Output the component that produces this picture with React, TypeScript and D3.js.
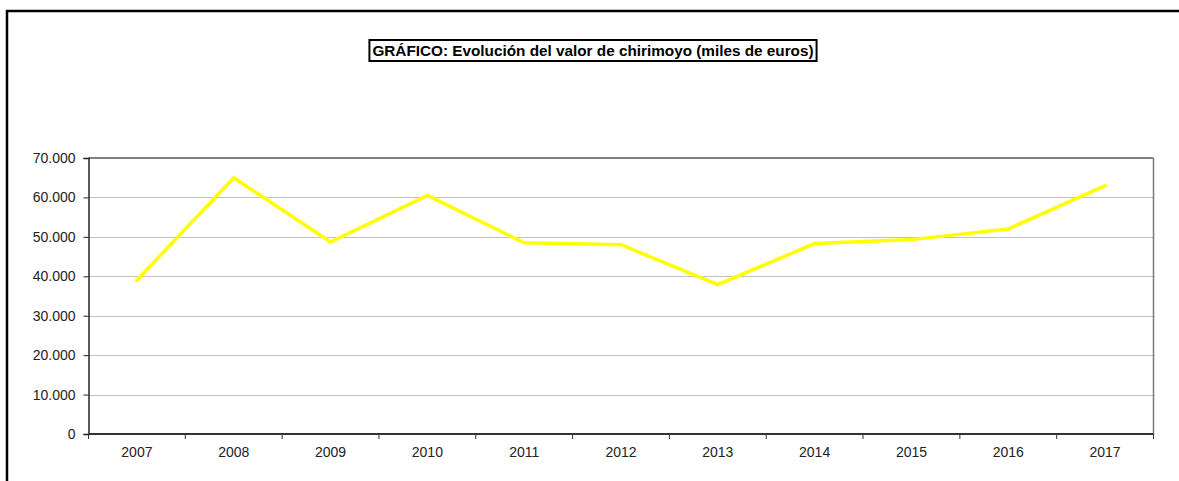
import React, { useEffect, useRef } from 'react';
import * as d3 from 'd3';

const years = ['2007', '2008', '2009', '2010', '2011', '2012', '2013', '2014', '2015', '2016', '2017'];
const values = [39000, 65000, 48700, 60500, 48500, 48000, 37900, 48300, 49300, 52000, 63000];
const yTicks = [0, 10000, 20000, 30000, 40000, 50000, 60000, 70000];
const title = 'GRÁFICO: Evolución del valor de chirimoyo (miles de euros)';

const FONT = "'Liberation Sans', Arial, sans-serif";

export default function App() {
  const svgRef = useRef<SVGSVGElement>(null);

  useEffect(() => {
    if (!svgRef.current) return;
    const width = 1179;
    const height = 481;
    const margin = { top: 158, right: 25.5, bottom: 47, left: 88.5 };

    const svg = d3.select(svgRef.current);
    svg.selectAll('*').remove();
    svg.attr('width', width).attr('height', height);

    svg.append('rect').attr('width', width).attr('height', height).attr('fill', '#fff');

    // outer frame (runs off right/bottom)
    svg
      .append('rect')
      .attr('x', 7)
      .attr('y', 11)
      .attr('width', width + 20)
      .attr('height', height + 20)
      .attr('fill', 'none')
      .attr('stroke', '#000')
      .attr('stroke-width', 2.5);

    const x = d3
      .scaleBand()
      .domain(years)
      .range([margin.left, width - margin.right]);
    const y = d3
      .scaleLinear()
      .domain([0, 70000])
      .range([height - margin.bottom, margin.top]);

    // grid
    svg
      .append('g')
      .selectAll('line')
      .data(yTicks.slice(1, -1))
      .join('line')
      .attr('x1', margin.left)
      .attr('x2', width - margin.right)
      .attr('y1', (d) => Math.round(y(d)) + 0.5)
      .attr('y2', (d) => Math.round(y(d)) + 0.5)
      .attr('stroke', '#c0c0c0')
      .attr('stroke-width', 1);

    // plot frame top/right
    svg
      .append('line')
      .attr('x1', margin.left)
      .attr('x2', width - margin.right)
      .attr('y1', y(70000))
      .attr('y2', y(70000))
      .attr('stroke', '#555')
      .attr('stroke-width', 1.5);
    svg
      .append('line')
      .attr('x1', width - margin.right)
      .attr('x2', width - margin.right)
      .attr('y1', y(70000))
      .attr('y2', y(0))
      .attr('stroke', '#777')
      .attr('stroke-width', 1.5);

    // y axis
    const yAxis = d3
      .axisLeft(y)
      .tickValues(yTicks)
      .tickSize(5)
      .tickPadding(8)
      .tickFormat((d) => d3.format(',')(d as number).replace(/,/g, '.'));
    const gy = svg.append('g').attr('transform', `translate(${margin.left},0)`).call(yAxis as any);
    gy.select('.domain').attr('stroke', '#222').attr('stroke-width', 1.5);
    gy.selectAll('.tick line').attr('stroke', '#222');
    gy.selectAll('text').attr('font-family', FONT).attr('font-size', '14px').attr('fill', '#222');

    // x axis
    const tickPositions = years.map((d) => x(d) as number).concat([width - margin.right]);
    const gx = svg.append('g');
    gx.append('line')
      .attr('x1', margin.left)
      .attr('x2', width - margin.right)
      .attr('y1', y(0))
      .attr('y2', y(0))
      .attr('stroke', '#333')
      .attr('stroke-width', 2);
    gx.selectAll('.xt')
      .data(tickPositions)
      .join('line')
      .attr('class', 'xt')
      .attr('x1', (d) => d)
      .attr('x2', (d) => d)
      .attr('y1', y(0))
      .attr('y2', y(0) + 5)
      .attr('stroke', '#333');
    gx.selectAll('text')
      .data(years)
      .join('text')
      .attr('x', (d) => (x(d) as number) + x.bandwidth() / 2)
      .attr('y', y(0) + 23)
      .attr('text-anchor', 'middle')
      .attr('font-family', FONT)
      .attr('font-size', '14px')
      .attr('fill', '#222')
      .text((d) => d);

    // series line
    const line = d3
      .line<number>()
      .x((_, i) => (x(years[i]) as number) + x.bandwidth() / 2)
      .y((d) => y(d));
    svg
      .append('path')
      .datum(values)
      .attr('d', line)
      .attr('fill', 'none')
      .attr('stroke', '#ffff00')
      .attr('stroke-width', 3.5)
      .attr('stroke-linejoin', 'miter')
      .attr('stroke-linecap', 'round');

    // title with box
    const tg = svg.append('g');
    const t = tg
      .append('text')
      .attr('x', 593)
      .attr('y', 56)
      .attr('text-anchor', 'middle')
      .attr('font-family', FONT)
      .attr('font-size', '15.3px')
      .attr('font-weight', 'bold')
      .attr('fill', '#000')
      .text(title);
    const bb = (t.node() as SVGTextElement).getBBox();
    tg.insert('rect', 'text')
      .attr('x', bb.x - 3)
      .attr('y', 40)
      .attr('width', bb.width + 6)
      .attr('height', 21)
      .attr('fill', '#fff')
      .attr('stroke', '#000')
      .attr('stroke-width', 2);
  }, []);

  return (
    <div style={{ position: 'fixed', left: 0, top: 0 }}>
      <svg ref={svgRef} style={{ display: 'block' }} />
    </div>
  );
}
